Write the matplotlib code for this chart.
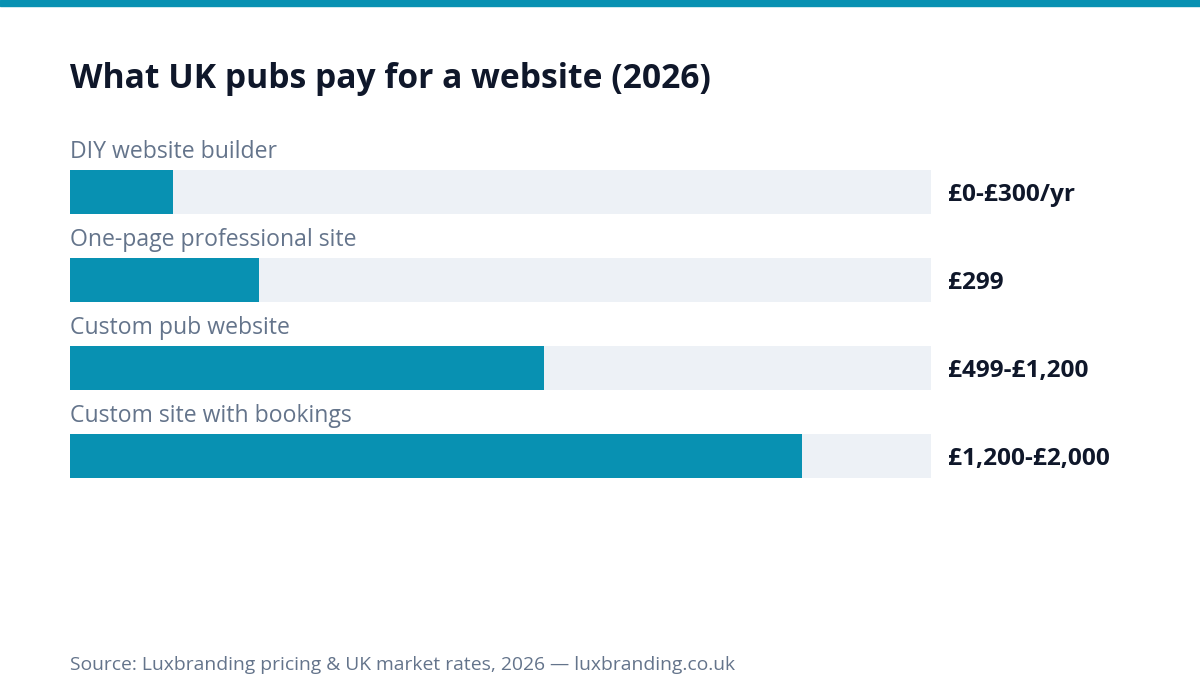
import matplotlib.pyplot as plt
from matplotlib.patches import Rectangle

# data
categories = ['DIY website builder', 'One-page professional site',
              'Custom pub website', 'Custom site with bookings']
fill_pct = [12, 22, 55, 85]
price_labels = ['£0-£300/yr', '£299', '£499-£1,200', '£1,200-£2,000']

title = 'What UK pubs pay for a website (2026)'
source = 'Source: Luxbranding pricing & UK market rates, 2026 \u2014 luxbranding.co.uk'

teal = '#0891b2'
track = '#edf1f6'
dark = '#0f172a'
muted = '#64748b'

plt.rcParams['font.family'] = ['Open Sans', 'DejaVu Sans']

fig = plt.figure(figsize=(12, 7), dpi=100)
fig.patch.set_facecolor('white')

# top accent strip
fig.patches.append(Rectangle((0, 1 - 6 / 700), 1, 6 / 700, transform=fig.transFigure,
                             color=teal, zorder=0))

ax = fig.add_axes([70 / 1200, 1 - 522 / 700, 861 / 1200, 396 / 700])
ypos = list(range(len(categories)))
ax.barh(ypos, [100] * len(ypos), height=0.5, color=track, left=0)
ax.barh(ypos, fill_pct, height=0.5, color=teal, left=0)
ax.set_xlim(0, 100)
ax.set_ylim(3.75, -0.75)
ax.axis('off')

for y, cat, lab in zip(ypos, categories, price_labels):
    ax.text(0, y - 0.386, cat, fontsize=16.6, color=muted, va='baseline', ha='left')
    ax.text(102, y + 0.1, lab, fontsize=17.6, color=dark, fontweight='bold',
            va='baseline', ha='left', clip_on=False)

fig.text(70 / 1200, 1 - 88 / 700, title, fontsize=24.2, fontweight='bold',
         color=dark, va='baseline', ha='left')
fig.text(70 / 1200, 1 - 670 / 700, source, fontsize=13.85, color=muted,
         va='baseline', ha='left')

fig.savefig('out.png', dpi=100, facecolor='white')
